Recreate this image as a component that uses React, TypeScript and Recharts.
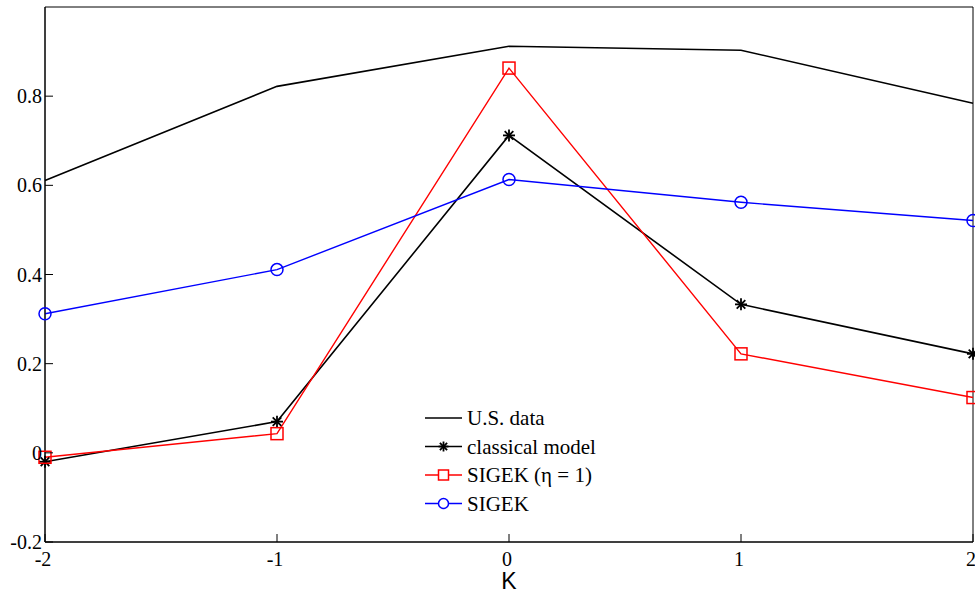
import React from 'react';
import {
  LineChart,
  Line,
  XAxis,
  YAxis,
  ReferenceArea
} from 'recharts';

// K values and the four series
const kValues = [-2, -1, 0, 1, 2];
const usData = [0.611, 0.822, 0.912, 0.903, 0.784];
const classicalModel = [-0.02, 0.07, 0.712, 0.333, 0.222];
const sigekEta1 = [-0.01, 0.043, 0.863, 0.222, 0.124];
const sigek = [0.312, 0.411, 0.613, 0.562, 0.521];

const xTicks = [-2, -1, 0, 1, 2];
const yTicks = [-0.2, 0, 0.2, 0.4, 0.6, 0.8];

const data = kValues.map((k, i) => ({
  k,
  us: usData[i],
  classical: classicalModel[i],
  eta1: sigekEta1[i],
  sigek: sigek[i]
}));

const SERIF = '"Liberation Serif", "DejaVu Serif", serif';
const TICK_LEN = 8;

const fmt = (v: number) => (Math.abs(v) < 1e-9 ? '0' : String(Number(v.toFixed(1))));

// bottom axis: inward tick mark plus label below
const BottomTick = ({ x, y, payload }: any) => (
  <g>
    <line x1={x} x2={x} y1={y} y2={y - TICK_LEN} stroke="#000" />
    <text x={x - 2} y={y + 24} textAnchor="middle" fontFamily={SERIF} fontSize={20} fill="#000">
      {fmt(payload.value)}
    </text>
  </g>
);

const TopTick = ({ x, y }: any) => (
  <line x1={x} x2={x} y1={y} y2={y + TICK_LEN} stroke="#000" />
);

const LeftTick = ({ x, y, payload }: any) => (
  <g>
    <line x1={x} x2={x + TICK_LEN} y1={y} y2={y} stroke="#000" />
    <text x={x - 3} y={y + 7} textAnchor="end" fontFamily={SERIF} fontSize={20} fill="#000">
      {fmt(payload.value)}
    </text>
  </g>
);

const RightTick = ({ x, y }: any) => (
  <line x1={x} x2={x - TICK_LEN} y1={y} y2={y} stroke="#000" />
);

const Asterisk = ({ cx, cy, size = 6, color = '#000' }: any) => {
  const d = size * 0.72;
  return (
    <g stroke={color} strokeWidth={1.8}>
      <line x1={cx} y1={cy - size} x2={cx} y2={cy + size} />
      <line x1={cx - size} y1={cy} x2={cx + size} y2={cy} />
      <line x1={cx - d} y1={cy - d} x2={cx + d} y2={cy + d} />
      <line x1={cx - d} y1={cy + d} x2={cx + d} y2={cy - d} />
    </g>
  );
};

const StarDot = (props: any) => {
  const { cx, cy, index } = props;
  if (cx == null || cy == null) return null;
  return <Asterisk key={index} cx={cx} cy={cy} />;
};

const SquareDot = (props: any) => {
  const { cx, cy, index } = props;
  if (cx == null || cy == null) return null;
  return (
    <rect key={index} x={cx - 6} y={cy - 6} width={12} height={12}
      fill="none" stroke="#ff0000" strokeWidth={1.5} />
  );
};

const CircleDot = (props: any) => {
  const { cx, cy, index } = props;
  if (cx == null || cy == null) return null;
  return <circle key={index} cx={cx} cy={cy} r={6} fill="none" stroke="#0000ff" strokeWidth={1.5} />;
};

const legendItems = [
  { name: 'U.S. data', color: '#000', marker: 'none' },
  { name: 'classical model', color: '#000', marker: 'star' },
  { name: 'SIGEK (\u03b7 = 1)', color: '#ff0000', marker: 'square' },
  { name: 'SIGEK', color: '#0000ff', marker: 'circle' }
];

// legend sits inside the plot box, without a frame
const ChartLegend = () => (
  <svg width={240} height={130} style={{ position: 'absolute', left: 425, top: 400, overflow: 'visible' }}>
    {legendItems.map((item, i) => {
      const y = 18 + i * 28.5;
      return (
        <g key={item.name}>
          <line x1={0} x2={37} y1={y} y2={y} stroke={item.color} strokeWidth={1.5} />
          {item.marker === 'star' && <Asterisk cx={18.5} cy={y} size={5} />}
          {item.marker === 'square' && (
            <rect x={13.5} y={y - 5} width={10} height={10} fill="#fff" stroke={item.color} strokeWidth={1.5} />
          )}
          {item.marker === 'circle' && (
            <circle cx={18.5} cy={y} r={5} fill="#fff" stroke={item.color} strokeWidth={1.5} />
          )}
          <text x={42} y={y + 7} fontFamily={SERIF} fontSize={21} fill="#000">
            {item.name}
          </text>
        </g>
      );
    })}
  </svg>
);

export default function App() {
  return (
    <div style={{ position: 'absolute', left: 0, top: 0, width: 975, height: 594, background: '#fff' }}>
      <LineChart
        width={975}
        height={594}
        data={data}
        margin={{ top: 7, right: 2, bottom: 0, left: 0 }}
      >
        <ReferenceArea
          xAxisId="bottom"
          yAxisId="left"
          x1={-2}
          x2={2}
          y1={-0.2}
          y2={1.0}
          fill="none"
          stroke="#000"
          strokeWidth={1}
          ifOverflow="visible"
        />
        <XAxis
          xAxisId="bottom"
          dataKey="k"
          type="number"
          domain={[-2, 2]}
          ticks={xTicks}
          tick={<BottomTick />}
          tickLine={false}
          tickSize={0}
          tickMargin={0}
          axisLine={{ stroke: '#000' }}
          height={52}
          interval={0}
          label={{ value: 'K', position: 'insideBottom', offset: 5, fontFamily: '"Liberation Sans", Arial, sans-serif', fontSize: 23, fill: '#000' }}
        />
        <XAxis
          xAxisId="top"
          orientation="top"
          dataKey="k"
          type="number"
          domain={[-2, 2]}
          ticks={xTicks}
          tick={<TopTick />}
          tickLine={false}
          tickSize={0}
          tickMargin={0}
          axisLine={{ stroke: '#777' }}
          height={0}
          interval={0}
        />
        <YAxis
          yAxisId="left"
          type="number"
          domain={[-0.2, 1.0]}
          ticks={yTicks}
          tick={<LeftTick />}
          tickLine={false}
          tickSize={0}
          tickMargin={0}
          axisLine={{ stroke: '#000' }}
          width={45}
          interval={0}
        />
        <YAxis
          yAxisId="right"
          orientation="right"
          type="number"
          domain={[-0.2, 1.0]}
          ticks={yTicks}
          tick={<RightTick />}
          tickLine={false}
          tickSize={0}
          tickMargin={0}
          axisLine={{ stroke: '#000' }}
          width={0}
          interval={0}
        />
        <Line xAxisId="bottom" yAxisId="left" dataKey="us" name="U.S. data" stroke="#000"
          strokeWidth={1.6} dot={false} isAnimationActive={false} />
        <Line xAxisId="bottom" yAxisId="left" dataKey="classical" name="classical model" stroke="#000"
          strokeWidth={1.6} dot={<StarDot />} isAnimationActive={false} />
        <Line xAxisId="bottom" yAxisId="left" dataKey="eta1" name="SIGEK (η = 1)" stroke="#ff0000"
          strokeWidth={1.4} dot={<SquareDot />} isAnimationActive={false} />
        <Line xAxisId="bottom" yAxisId="left" dataKey="sigek" name="SIGEK" stroke="#0000ff"
          strokeWidth={1.4} dot={<CircleDot />} isAnimationActive={false} />
      </LineChart>
      <ChartLegend />
    </div>
  );
}
